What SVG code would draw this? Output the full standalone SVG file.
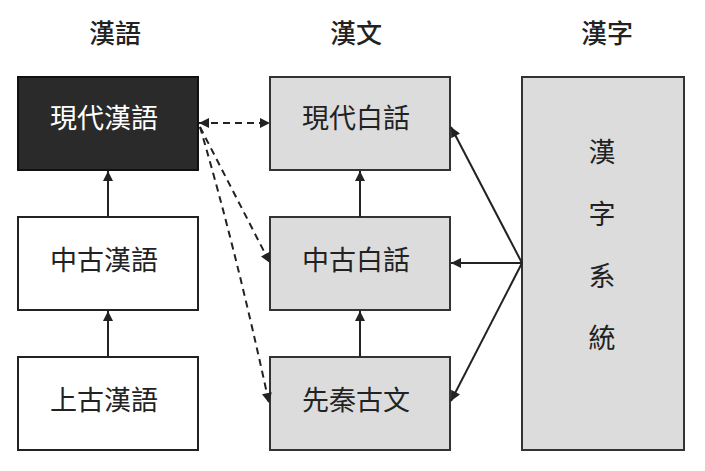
<svg xmlns="http://www.w3.org/2000/svg" width="705" height="471" viewBox="0 0 705 471">
<style>
.t{font-family:"Noto Sans CJK TC","Noto Sans CJK SC",sans-serif;fill:#222;text-anchor:middle;dominant-baseline:central}
.hd{font-size:26px;font-weight:500}
.lb{font-size:27px}
.box{fill:#dcdcdc;stroke:#333;stroke-width:2}
.wbox{fill:#fff;stroke:#222;stroke-width:2}
.ln{stroke:#222;stroke-width:2;fill:none}
.dash{stroke-dasharray:7,5}
</style>
<defs>
<marker id="ah" viewBox="0 0 10 10" refX="10" refY="5" markerWidth="11" markerHeight="10" markerUnits="userSpaceOnUse" orient="auto-start-reverse">
<path d="M0,0 L10,5 L0,10 z" fill="#222"/>
</marker>
</defs>
<g id="headers">
<text class="t hd" x="115" y="31">漢語</text>
<text class="t hd" x="356" y="31">漢文</text>
<text class="t hd" x="607" y="31">漢字</text>
</g>
<g id="n-modern-chinese">
<rect x="18" y="77" width="180" height="93" fill="#2a2a2a" stroke="#111" stroke-width="2"/>
<text class="t lb" x="104" y="116" style="fill:#fff">現代漢語</text>
</g>
<g id="n-middle-chinese">
<rect class="wbox" x="18" y="217" width="180" height="93"/>
<text class="t lb" x="104" y="258">中古漢語</text>
</g>
<g id="n-old-chinese">
<rect class="wbox" x="18" y="357" width="180" height="93"/>
<text class="t lb" x="104" y="398">上古漢語</text>
</g>
<g id="n-modern-vernacular">
<rect class="box" x="270" y="77" width="180" height="93"/>
<text class="t lb" x="356" y="116">現代白話</text>
</g>
<g id="n-middle-vernacular">
<rect class="box" x="270" y="217" width="180" height="93"/>
<text class="t lb" x="356" y="258">中古白話</text>
</g>
<g id="n-preqin">
<rect class="box" x="270" y="357" width="180" height="93"/>
<text class="t lb" x="356" y="398">先秦古文</text>
</g>
<g id="n-hanzi-system">
<rect class="box" x="522" y="77" width="162" height="373"/>
<text class="t lb" x="602" y="150">漢</text>
<text class="t lb" x="602" y="212">字</text>
<text class="t lb" x="602" y="274">系</text>
<text class="t lb" x="602" y="336">統</text>
</g>
<g id="connectors">
<line class="ln" x1="108" y1="217" x2="108" y2="171" marker-end="url(#ah)"/>
<line class="ln" x1="108" y1="357" x2="108" y2="311" marker-end="url(#ah)"/>
<line class="ln" x1="360" y1="217" x2="360" y2="171" marker-end="url(#ah)"/>
<line class="ln" x1="360" y1="357" x2="360" y2="311" marker-end="url(#ah)"/>
<line class="ln dash" x1="199" y1="123" x2="270" y2="123" marker-start="url(#ah)" marker-end="url(#ah)"/>
<line class="ln dash" x1="200" y1="127" x2="270" y2="263" marker-end="url(#ah)"/>
<path class="ln dash" d="M200,127 Q236,250 269,403" marker-end="url(#ah)"/>
<line class="ln" x1="522" y1="263" x2="451" y2="127" marker-end="url(#ah)"/>
<line class="ln" x1="522" y1="263" x2="451" y2="263" marker-end="url(#ah)"/>
<line class="ln" x1="522" y1="263" x2="451" y2="401" marker-end="url(#ah)"/>
</g>
</svg>
